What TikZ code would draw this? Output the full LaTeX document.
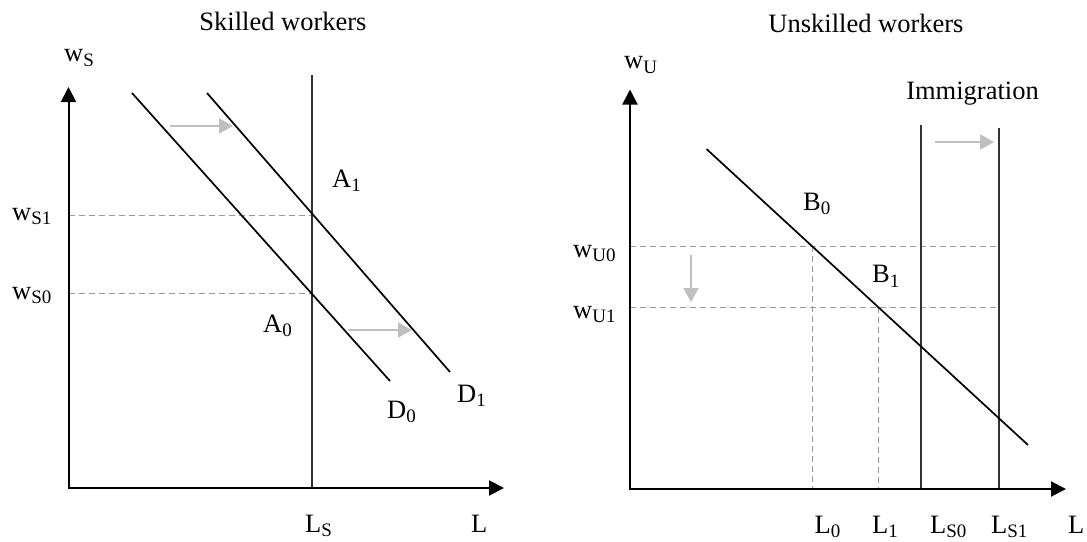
\documentclass[tikz,border=0pt]{standalone}
\usepackage{fontspec}
\setmainfont{Liberation Serif}
\usetikzlibrary{arrows.meta}
\newcommand{\sbs}[1]{\raisebox{-4.5pt}{\fontsize{19}{19}\selectfont #1}}
\begin{document}
\begin{tikzpicture}[x=1pt,y=-1pt,
  lbl/.style={inner sep=0pt, anchor=base west, font=\fontsize{26.5}{30}\selectfont},
  ttl/.style={inner sep=0pt, anchor=base, font=\fontsize{26.5}{30}\selectfont},
  axis/.style={line width=2pt, line join=miter, {Triangle[length=15pt,width=15pt]}-{Triangle[length=15pt,width=15pt]}},
  curve/.style={line width=1.7pt, draw=black},
  supply/.style={line width=1.4pt, draw=black!80},
  guide/.style={line width=1pt, draw=black!40, dash pattern=on 6pt off 4pt},
  shiftarrow/.style={line width=2pt, draw=black!25, -{Triangle[length=14pt,width=15pt,fill=black!25]}}]
\useasboundingbox (0,0) rectangle (1087,541);

% ---------- Left panel: skilled workers ----------
\coordinate (Y1) at (68.5,87);
\coordinate (O1) at (68.5,488);
\coordinate (X1) at (504,488);
\coordinate (LSt) at (312,75);
\coordinate (LSb) at (312,488);
\coordinate (D0a) at (132,93);
\coordinate (D0b) at (390,381);
\coordinate (D1a) at (207,93);
\coordinate (D1b) at (450,372);
\coordinate (wS1a) at (68.5,215);
\coordinate (wS1b) at (312,215);
\coordinate (wS0a) at (68.5,293);
\coordinate (wS0b) at (312,293);
\coordinate (g1a) at (170,126);
\coordinate (g1b) at (233,126);
\coordinate (g2a) at (348,330);
\coordinate (g2b) at (412,330);

\draw[guide] (wS1a) -- (wS1b);
\draw[guide] (wS0a) -- (wS0b);
\draw[supply] (LSt) -- (LSb);
\draw[curve] (D0a) -- (D0b);
\draw[curve] (D1a) -- (D1b);
\draw[axis] (Y1) -- (O1) -- (X1);
\draw[shiftarrow] (g1a) -- (g1b);
\draw[shiftarrow] (g2a) -- (g2b);

\node[ttl] (t1) at (283,30.5) {Skilled workers};
\node[lbl] (ws) at (64,61.5) {w\sbs{S}};
\node[lbl] (ws1) at (12,220) {w\sbs{S1}};
\node[lbl] (ws0) at (12,299) {w\sbs{S0}};
\node[lbl] (a1) at (332,187) {A\sbs{1}};
\node[lbl] (a0) at (263,332) {A\sbs{0}};
\node[lbl] (d0) at (387,418) {D\sbs{0}};
\node[lbl] (d1) at (457,402) {D\sbs{1}};
\node[lbl] (ls) at (305,532) {L\sbs{S}};
\node[lbl] (lx1) at (471,532) {L};

% ---------- Right panel: unskilled workers ----------
\coordinate (Y2) at (630,89.5);
\coordinate (O2) at (630,489);
\coordinate (X2) at (1066,489);
\coordinate (LS0t) at (921,125);
\coordinate (LS0b) at (921,489);
\coordinate (LS1t) at (999,128);
\coordinate (LS1b) at (999,489);
\coordinate (Da) at (706.5,149);
\coordinate (Db) at (1028,445);
\coordinate (wU0a) at (630,246);
\coordinate (wU0b) at (999,246);
\coordinate (wU1a) at (630,307);
\coordinate (wU1b) at (999,307);
\coordinate (L0t) at (812,246);
\coordinate (L0b) at (812,489);
\coordinate (L1t) at (878,307);
\coordinate (L1b) at (878,489);
\coordinate (g3a) at (934.5,142);
\coordinate (g3b) at (994,142);
\coordinate (g4a) at (691,255);
\coordinate (g4b) at (691,302);

\draw[guide] (wU0a) -- (wU0b);
\draw[guide] (wU1a) -- (wU1b);
\draw[guide] (L0t) -- (L0b);
\draw[guide] (L1t) -- (L1b);
\draw[supply] (LS0t) -- (LS0b);
\draw[supply] (LS1t) -- (LS1b);
\draw[curve] (Da) -- (Db);
\draw[axis] (Y2) -- (O2) -- (X2);
\draw[shiftarrow] (g3a) -- (g3b);
\draw[shiftarrow] (g4a) -- (g4b);

\node[ttl] (t2) at (866,32) {Unskilled workers};
\node[ttl] (imm) at (972.5,99) {Immigration};
\node[lbl] (wu) at (624,68.6) {w\sbs{U}};
\node[lbl] (wu0) at (573,257) {w\sbs{U0}};
\node[lbl] (wu1) at (573,318) {w\sbs{U1}};
\node[lbl] (b0) at (803,210) {B\sbs{0}};
\node[lbl] (b1) at (872,282.6) {B\sbs{1}};
\node[lbl] (l0) at (814.5,533) {L\sbs{0}};
\node[lbl] (l1) at (872,533) {L\sbs{1}};
\node[lbl] (ls0) at (930,533) {L\sbs{S0}};
\node[lbl] (ls1) at (991,533) {L\sbs{S1}};
\node[lbl] (lx2) at (1068,533) {L};
\end{tikzpicture}
\end{document}
